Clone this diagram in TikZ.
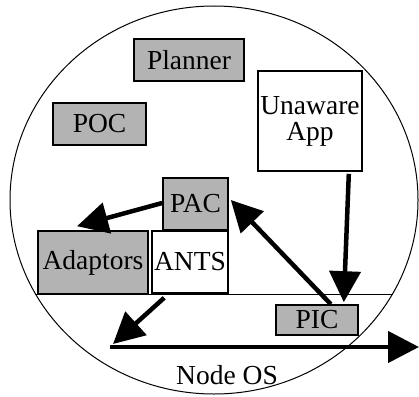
\documentclass[tikz,border=0pt]{standalone}
\usepackage{fontspec}
\setmainfont{Liberation Serif}
\newfontfamily\tnr{Liberation Serif}
\usetikzlibrary{arrows.meta,calc}
\definecolor{boxgray}{RGB}{179,179,179}
\tikzset{
  lbl/.style={font=\tnr\fontsize{27.5}{29}\selectfont},
  gbox/.style={lbl,draw=black,line width=1.6pt,fill=boxgray,inner sep=0pt},
  wbox/.style={lbl,draw=black,line width=1.6pt,fill=white,inner sep=0pt,align=center},
  arr/.style={line width=4.5pt,-{Triangle[length=31pt,width=31pt]}},
}
\begin{document}
\begin{tikzpicture}[x=1pt,y=-1pt]
\useasboundingbox (0,0) rectangle (419,396);
\draw[line width=1pt] (214,200) ellipse [x radius=204, y radius=194];
\coordinate (chl) at (35.5,294);
\coordinate (chr) at (392.5,294);
\draw[line width=1pt] (chl) -- (chr);
\node[gbox,minimum width=110pt,minimum height=42pt] (plan) at (189,60) {Planner};
\node[gbox,minimum width=93pt,minimum height=42pt] (poc) at (99.5,124) {POC};
\node[wbox,minimum width=104pt,minimum height=100pt] (ua) at (310,121) {Unaware\\[-3pt]App};
\node[gbox,minimum width=65pt,minimum height=52pt] (pac) at (195.5,204) {PAC};
\node[gbox,minimum width=110pt,minimum height=63pt] (adp) at (93,262.5) {Adaptors};
\node[wbox,minimum width=76pt,minimum height=62pt] (ants) at (190,262) {ANTS};
\node[gbox,minimum width=82pt,minimum height=30pt] (pic) at (317,320) {PIC};
\node[lbl] (os) at (227,375) {Node OS};
\coordinate (os1) at (110,347);
\coordinate (os2) at (419,347);
\draw[arr] (os1) -- (os2);
\draw[arr] ($(ua.south east)+(-14,2)$) -- ($(pic.north east)+(-15,-2)$);
\draw[arr] ($(pic.north east)+(-28,0)$) -- ($(pac.east)+(2,-4)$);
\draw[arr] ($(pac.west)+(0,-1)$) -- ($(adp.north)+(-16,-4)$);
\draw[arr] ($(ants.south west)+(13,4)$) -- ($(os1)+(3,-3)$);
\end{tikzpicture}
\end{document}
